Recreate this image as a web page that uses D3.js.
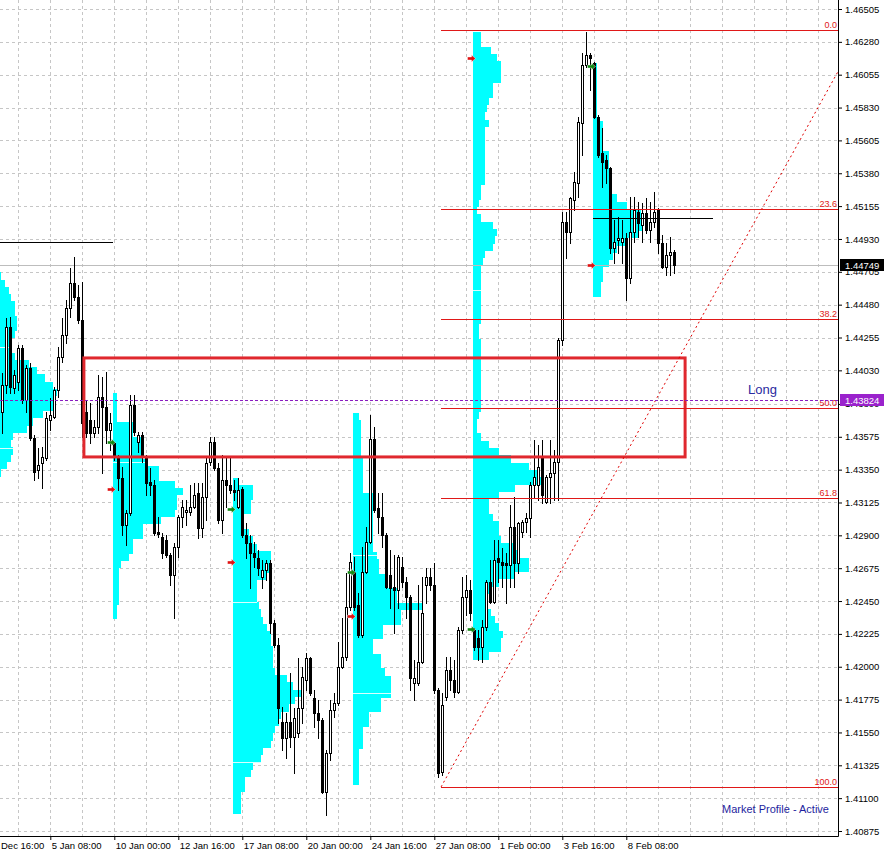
<!DOCTYPE html>
<html><head><meta charset="utf-8">
<script src="https://cdn.jsdelivr.net/npm/d3@7"></script>
<style>html,body{margin:0;padding:0;background:#fff;}svg{display:block;}</style>
</head><body>
<svg id="c" width="884" height="855"></svg>
<script>
// ---------- DATA (H4 bars, index 0 = first visible bar) ----------
const openP=[
1.43745,1.43930,1.44327,1.43910,1.43951,1.44184,1.43827,1.44047,1.43567,1.43348,
1.43396,1.43430,1.43690,1.43711,1.43896,1.44122,1.44273,1.44458,1.44629,1.44533,
1.44375,1.43745,1.43690,1.43601,1.43642,1.43848,1.43779,1.43622,1.43533,1.43437,
1.43293,1.42971,1.43053,1.43793,1.43540,1.43588,1.43430,1.43266,1.43245,1.42923,
1.42889,1.42869,1.42766,1.42629,1.42821,1.43026,1.43060,1.43060,1.43095,1.43190,
1.42951,1.43163,1.43403,1.43540,1.43362,1.43005,1.43279,1.43245,1.43211,1.43095,
1.43218,1.42903,1.42848,1.42779,1.42745,1.42615,1.42663,1.42711,1.42300,1.42149,
1.41622,1.41512,1.41622,1.41519,1.41547,1.41718,1.41910,1.42060,1.41786,1.41684,
1.41636,1.41143,1.41410,1.41704,1.41752,1.41999,1.42067,1.42410,1.42649,1.42423,
1.42218,1.42649,1.42855,1.43560,1.43088,1.43026,1.42903,1.42629,1.42547,1.42526,
1.42684,1.42581,1.42478,1.41889,1.41889,1.42033,1.42560,1.42615,1.42560,1.41841,
1.41280,1.41793,1.41978,1.41910,1.41828,1.42252,1.42478,1.42526,1.42252,1.42197,
1.42136,1.42273,1.42581,1.42444,1.42745,1.42718,1.42711,1.42697,1.42958,1.42711,
1.42923,1.42992,1.43019,1.43245,1.43245,1.43430,1.43129,1.43300,1.43327,1.43403,
1.44238,1.45046,1.44978,1.45197,1.45314,1.45725,1.46122,1.46190,1.46135,1.45766,
1.45519,1.45471,1.45416,1.44868,1.44923,1.44910,1.44937,1.44663,1.44978,1.45115,
1.45026,1.45108,1.44992,1.45046,1.45129,1.44903,1.44738,1.44821,1.44841];
const highP=[
1.44012,1.44389,1.44396,1.44033,1.44204,1.44204,1.44067,1.44081,1.43588,1.43499,
1.43505,1.43745,1.43841,1.43916,1.44190,1.44389,1.44512,1.44731,1.44807,1.44615,
1.44636,1.43827,1.43807,1.43690,1.43999,1.43985,1.44019,1.43738,1.43540,1.43451,
1.43368,1.43074,1.43862,1.43862,1.43608,1.43608,1.43451,1.43362,1.43279,1.43026,
1.42916,1.42903,1.42779,1.42848,1.43040,1.43142,1.43142,1.43245,1.43259,1.43259,
1.43259,1.43437,1.43574,1.43574,1.43396,1.43451,1.43437,1.43444,1.43279,1.43293,
1.43231,1.42985,1.42903,1.42855,1.42800,1.42732,1.42732,1.42732,1.42321,1.42197,
1.41725,1.41684,1.41958,1.41718,1.42060,1.41999,1.42095,1.42067,1.41841,1.41773,
1.41649,1.41430,1.41773,1.41821,1.42170,1.42334,1.42643,1.42779,1.42752,1.42506,
1.42821,1.42958,1.43725,1.43642,1.43190,1.43190,1.42916,1.42800,1.42766,1.42766,
1.42752,1.42615,1.42492,1.42047,1.42560,1.42615,1.42677,1.42677,1.42711,1.41855,
1.41821,1.42067,1.42067,1.42047,1.42273,1.42615,1.42629,1.42595,1.42266,1.42252,
1.42321,1.42595,1.42732,1.42869,1.42869,1.42814,1.42779,1.43108,1.43163,1.42992,
1.43005,1.43053,1.43266,1.43553,1.43519,1.43553,1.43314,1.43553,1.43485,1.44252,
1.45115,1.45115,1.45218,1.45389,1.45766,1.46204,1.46348,1.46204,1.46142,1.45779,
1.45690,1.45505,1.45423,1.45060,1.45081,1.45060,1.44971,1.45218,1.45218,1.45184,
1.45177,1.45211,1.45184,1.45252,1.45142,1.44958,1.44903,1.44944,1.44855];
const lowP=[
1.43601,1.43875,1.43875,1.43875,1.43896,1.43807,1.43745,1.43553,1.43279,1.43293,
1.43225,1.43416,1.43622,1.43704,1.43848,1.44088,1.44218,1.44396,1.44512,1.44355,
1.43574,1.43574,1.43533,1.43574,1.43601,1.43327,1.43533,1.43485,1.43416,1.43211,
1.42903,1.42834,1.43040,1.43588,1.43471,1.43403,1.43177,1.43177,1.42903,1.42889,
1.42745,1.42752,1.42560,1.42334,1.42752,1.42958,1.42971,1.43040,1.43088,1.42882,
1.42889,1.43005,1.43382,1.43348,1.42985,1.42916,1.43095,1.43190,1.43142,1.43088,
1.42889,1.42745,1.42540,1.42684,1.42629,1.42540,1.42595,1.42232,1.42136,1.41615,
1.41430,1.41375,1.41451,1.41273,1.41519,1.41615,1.41841,1.41807,1.41588,1.41512,
1.41136,1.40985,1.41362,1.41656,1.41739,1.41992,1.42047,1.42389,1.42389,1.42204,
1.42204,1.42643,1.42848,1.43060,1.42916,1.42821,1.42540,1.42403,1.42232,1.42403,
1.42547,1.42334,1.41841,1.41773,1.41875,1.42026,1.42437,1.42526,1.41821,1.41245,
1.41259,1.41773,1.41841,1.41793,1.41821,1.42232,1.42355,1.42321,1.42115,1.42047,
1.42033,1.42252,1.42437,1.42437,1.42581,1.42547,1.42437,1.42547,1.42547,1.42643,
1.42889,1.42923,1.42889,1.43163,1.43142,1.43122,1.43122,1.43122,1.43142,1.43142,
1.44204,1.44800,1.44903,1.45129,1.45218,1.45505,1.46108,1.45951,1.45759,1.45492,
1.45286,1.45314,1.44834,1.44766,1.44834,1.44766,1.44512,1.44629,1.44910,1.44944,
1.44910,1.44971,1.44910,1.45012,1.44834,1.44731,1.44684,1.44684,1.44697];
const closeP=[
1.43930,1.44327,1.43916,1.43999,1.44184,1.43827,1.44047,1.43567,1.43334,1.43382,
1.43437,1.43704,1.43725,1.43896,1.44122,1.44273,1.44458,1.44629,1.44533,1.44375,
1.43670,1.43601,1.43601,1.43642,1.43848,1.43779,1.43622,1.43670,1.43437,1.43293,
1.42971,1.43053,1.43793,1.43608,1.43588,1.43451,1.43259,1.43245,1.42916,1.42910,
1.42779,1.42766,1.42629,1.42821,1.43026,1.43095,1.43074,1.43095,1.43177,1.42951,
1.43163,1.43396,1.43540,1.43362,1.43005,1.43279,1.43245,1.43211,1.43197,1.43211,
1.42903,1.42848,1.42779,1.42752,1.42677,1.42663,1.42711,1.42300,1.42149,1.41718,
1.41512,1.41622,1.41519,1.41649,1.41718,1.41930,1.42060,1.41821,1.41684,1.41636,
1.41143,1.41410,1.41704,1.41752,1.41999,1.42067,1.42410,1.42718,1.42410,1.42218,
1.42649,1.42855,1.43560,1.43074,1.43026,1.42903,1.42547,1.42540,1.42526,1.42752,
1.42581,1.42478,1.41923,1.41923,1.42033,1.42369,1.42615,1.42560,1.41841,1.41273,
1.41739,1.41978,1.41910,1.41828,1.42252,1.42478,1.42526,1.42369,1.42136,1.42136,
1.42273,1.42581,1.42444,1.42732,1.42718,1.42697,1.42697,1.42958,1.42711,1.42985,
1.42992,1.43019,1.43245,1.43300,1.43368,1.43177,1.43300,1.43327,1.43403,1.44238,
1.45046,1.44978,1.45211,1.45320,1.45731,1.46122,1.46190,1.46170,1.45766,1.45505,
1.45457,1.45416,1.44868,1.44910,1.44937,1.44937,1.44663,1.44978,1.45129,1.45040,
1.45108,1.44992,1.45046,1.45115,1.44903,1.44738,1.44821,1.44841,1.44749];

// time axis labels (bar index -> label)
const timeTickIdx=[-4,12,28,44,60,76,92,108,124,140,156];
const timeTickLbl=["31 Dec 16:00","5 Jan 08:00","10 Jan 00:00","12 Jan 16:00","17 Jan 08:00","20 Jan 00:00","24 Jan 16:00","27 Jan 08:00","1 Feb 00:00","3 Feb 16:00","8 Feb 08:00"];
const priceTicks=[1.46505,1.46280,1.46055,1.45830,1.45605,1.45380,1.45155,1.44930,1.44705,1.44480,1.44255,1.44030,1.43800,1.43575,1.43350,1.43125,1.42900,1.42675,1.42450,1.42225,1.42000,1.41775,1.41550,1.41325,1.41100,1.40875];

// weekly market profiles
const profStart=[-2,28,58,88,118,148];
const profTop=[1.44752,1.43875,1.43293,1.43738,1.46348,1.46135];
const profStep=0.0005;
const tpo1=[2,4,6,8,9,11,11,12,12,11,8,8,11,18,22,26,30,32,31,30,25,20,17,10,9,10,9,7,4];
const tpo2=[2,2,2,2,10,10,15,15,15,16,23,23,31,35,32,32,31,24,15,15,10,10,8,4,3,3,3,3,3,2,2];
const tpo3=[3,10,10,9,9,4,4,8,10,12,19,19,19,17,12,12,12,13,14,15,17,19,19,20,20,20,21,27,30,34,31,28,24,23,21,20,19,15,14,10,9,6,6,4,4,4];
const tpo4=[3,4,4,4,4,4,5,5,5,5,5,10,10,10,10,10,10,10,10,12,13,13,17,17,22,22,35,24,24,15,15,10,10,14,14,16,19,19,19,14,14,8,8,5,5,5,3,3,3,3,3];
const tpo5=[4,4,9,12,14,14,14,10,10,8,7,6,8,6,6,6,6,6,6,6,6,4,4,3,2,4,10,12,11,10,6,5,4,4,4,4,4,4,4,4,3,3,4,4,4,4,4,4,4,4,4,4,3,2,2,4,8,13,19,28,33,34,21,13,8,8,10,13,13,14,20,23,28,28,21,13,8,6,6,9,11,13,15,14,14,8];
const tpo6=[2,2,2,2,2,2,2,2,5,5,5,5,8,8,8,9,8,9,12,17,24,25,25,23,17,12,10,8,5,5,4,4];
const vaProfile=[0,0,1,2,2,3,3,4];
const vaPrice=[1.44190,1.43499,1.43403,1.42444,1.41348,1.42766,1.41821,1.44581];

// profile markers
const arrowIdx=[28,28,58,58,88,88,118,118,148,148];
const arrowPrice=[1.43540,1.43218,1.43081,1.42718,1.42649,1.42348,1.46170,1.42259,1.46115,1.44752];
const arrowKind=["g","r","g","r","g","r","r","g","g","r"];

// weekly level segments
const segFrom=[-2,148], segTo=[28,178], segPrice=[1.44910,1.45074];

// objects
const rectIdx=[20.4,170.7], rectPrice=[1.44115,1.43437];
const fibFrom={i:109.7,p:1.41177}, fibTo={i:214.7,p:1.46362};
const fibLevels=[0,23.6,38.2,50,61.8,100];
const bidPrice=1.44749, linePrice=1.43824;

// ---------- DRAW ----------
const plotR=838, plotB=836;
const x=d3.scaleLinear().domain([0,200]).range([2.3,802.3]);
const y=d3.scaleLinear().domain([1.40875,1.46505]).range([831,9]);
const wTpo=d3.scaleLinear().domain([0,1]).range([0,2]);
const FONT="'Liberation Sans', Arial, sans-serif";
const svg=d3.select('#c');
svg.append('rect').attr('width',884).attr('height',855).attr('fill','#fff');
svg.append('defs').append('clipPath').attr('id','clip').append('rect').attr('x',0).attr('y',0).attr('width',plotR).attr('height',plotB);
const g=svg.append('g').attr('clip-path','url(#clip)');

// grid
const gridIdx=d3.range(4,212,8);
g.selectAll('.vg').data(gridIdx).enter().append('line')
 .attr('x1',d=>Math.floor(x(d))+0.5).attr('x2',d=>Math.floor(x(d))+0.5).attr('y1',0).attr('y2',plotB)
 .attr('stroke','#c6c6c6').attr('stroke-dasharray','3,3');
g.selectAll('.hg').data(priceTicks).enter().append('line')
 .attr('x1',0).attr('x2',plotR).attr('y1',d=>Math.round(y(d))+0.5).attr('y2',d=>Math.round(y(d))+0.5)
 .attr('stroke','#c6c6c6').attr('stroke-dasharray','3,3');

// profiles
const tpos=[tpo1,tpo2,tpo3,tpo4,tpo5,tpo6];
tpos.forEach((arr,pi)=>{
  const x0=Math.floor(x(profStart[pi]))-1;
  g.append('g').selectAll('rect').data(arr).enter().append('rect')
   .attr('x',x0)
   .attr('y',(d,i)=>Math.round(y(profTop[pi]-i*profStep)))
   .attr('height',(d,i)=>Math.round(y(profTop[pi]-(i+1)*profStep))-Math.round(y(profTop[pi]-i*profStep)))
   .attr('width',d=>Math.round(wTpo(d)))
   .attr('fill','#00ffff').attr('shape-rendering','crispEdges');
});
vaPrice.forEach((p,j)=>{
  const pi=vaProfile[j]; const arr=tpos[pi];
  const row=Math.max(0,Math.min(arr.length-1,Math.floor((profTop[pi]-p)/profStep)));
  const x0=Math.floor(x(profStart[pi]))-1;
  g.append('line').attr('x1',x0).attr('x2',x0+Math.round(wTpo(arr[row])))
   .attr('y1',Math.round(y(p))+0.5).attr('y2',Math.round(y(p))+0.5)
   .attr('stroke','#d8ffff').attr('stroke-width',1);
});

// bid line
g.append('line').attr('x1',0).attr('x2',plotR).attr('y1',Math.round(y(bidPrice))+0.5).attr('y2',Math.round(y(bidPrice))+0.5)
 .attr('stroke','#bdbdbd');

// candles
const bars=d3.range(openP.length).map(i=>({i,o:openP[i],h:highP[i],l:lowP[i],c:closeP[i]}));
const cg=g.append('g').attr('shape-rendering','crispEdges');
bars.forEach(b=>{
  const cx=Math.floor(x(b.i));
  const yh=Math.round(y(b.h)), yl=Math.round(y(b.l));
  cg.append('rect').attr('x',cx).attr('y',yh).attr('width',1).attr('height',Math.max(1,yl-yh+1)).attr('fill','#000');
  const yo=Math.round(y(b.o)), yc=Math.round(y(b.c));
  const yt=Math.min(yo,yc), yb=Math.max(yo,yc);
  if(b.c>b.o){
    cg.append('rect').attr('x',cx-0.5).attr('y',yt+0.5).attr('width',2).attr('height',Math.max(1,yb-yt))
      .attr('fill','#fff').attr('stroke','#000').attr('stroke-width',1);
  } else {
    cg.append('rect').attr('x',cx-1).attr('y',yt).attr('width',3).attr('height',Math.max(1,yb-yt+1)).attr('fill','#000');
  }
});

// weekly segments
segPrice.forEach((p,j)=>{
  g.append('line').attr('x1',Math.floor(x(segFrom[j]))-1).attr('x2',Math.floor(x(segTo[j]))-1)
   .attr('y1',Math.round(y(p))+0.5).attr('y2',Math.round(y(p))+0.5).attr('stroke','#000');
});

// rectangle
g.append('rect').attr('x',x(rectIdx[0])).attr('y',y(rectPrice[0]))
 .attr('width',x(rectIdx[1])-x(rectIdx[0])).attr('height',y(rectPrice[1])-y(rectPrice[0]))
 .attr('fill','none').attr('stroke','#e0282e').attr('stroke-width',3);

// fibonacci
const fx0=x(fibFrom.i);
g.append('line').attr('x1',fx0).attr('y1',y(fibFrom.p)).attr('x2',x(fibTo.i)).attr('y2',y(fibTo.p))
 .attr('stroke','#e00000').attr('stroke-dasharray','2,3');
fibLevels.forEach(l=>{
  const p=fibTo.p-(fibTo.p-fibFrom.p)*l/100;
  const yy=Math.round(y(p))+0.5;
  g.append('line').attr('x1',fx0).attr('x2',plotR).attr('y1',yy).attr('y2',yy)
   .attr('stroke','#e01818').attr('shape-rendering','crispEdges');
  g.append('text').attr('x',837).attr('y',yy-2.5).attr('text-anchor','end')
   .attr('font-family',FONT).attr('font-size','9px').attr('fill','#e01818').text(l.toFixed(1));
});

// purple line
g.append('line').attr('x1',0).attr('x2',plotR).attr('y1',Math.round(y(linePrice))+0.5).attr('y2',Math.round(y(linePrice))+0.5)
 .attr('stroke','#8a1cc0').attr('stroke-dasharray','3,2');

// arrows
const arrowPath="M-4,-1.5 L0,-1.5 L0,-3.5 L4,0 L0,3.5 L0,1.5 L-4,1.5 Z";
arrowIdx.forEach((k,j)=>{
  g.append('path').attr('d',arrowPath)
   .attr('transform',`translate(${Math.floor(x(k))-2.5},${Math.round(y(arrowPrice[j]))+0.5})`)
   .attr('fill',arrowKind[j]==='g'?'#118811':'#e01010').attr('stroke','#fff').attr('stroke-width',0.4);
});

// texts
g.append('text').attr('x',748).attr('y',394).attr('font-family',FONT).attr('font-size','13px').attr('fill','#2a2aa0').text('Long');
g.append('text').attr('x',722).attr('y',813).attr('font-family',FONT).attr('font-size','11px').attr('fill','#1e1e9e').text('Market Profile - Active');

// axes
const ay=svg.append('g').attr('transform',`translate(${plotR},0)`)
 .call(d3.axisRight(y).tickValues(priceTicks).tickSize(4).tickFormat(d3.format('.5f')));
ay.select('.domain').remove();
ay.selectAll('text').attr('font-family',FONT).attr('font-size','9.5px').attr('fill','#000');
const ax=svg.append('g').attr('transform',`translate(0,${plotB})`)
 .call(d3.axisBottom(x).tickValues(timeTickIdx).tickSize(4).tickFormat((d,i)=>timeTickLbl[i]));
ax.select('.domain').remove();
ax.selectAll('text').attr('text-anchor','start').attr('x',1).attr('y',6)
 .attr('font-family',FONT).attr('font-size','9.5px').attr('fill','#000');
svg.append('line').attr('x1',plotR+0.5).attr('x2',plotR+0.5).attr('y1',0).attr('y2',plotB+0.5).attr('stroke','#000');
svg.append('line').attr('x1',0).attr('x2',plotR+0.5).attr('y1',plotB+0.5).attr('y2',plotB+0.5).attr('stroke','#000');

// price boxes
function priceBox(p,bg){
  const yy=Math.round(y(p));
  svg.append('rect').attr('x',840).attr('y',yy-6).attr('width',44).attr('height',12).attr('fill',bg);
  svg.append('text').attr('x',845).attr('y',yy+3.5).attr('font-family',FONT).attr('font-size','9.5px').attr('fill','#fff').text(p.toFixed(5));
}
priceBox(bidPrice,'#000');
priceBox(linePrice,'#9a22cc');
</script>
</body></html>
